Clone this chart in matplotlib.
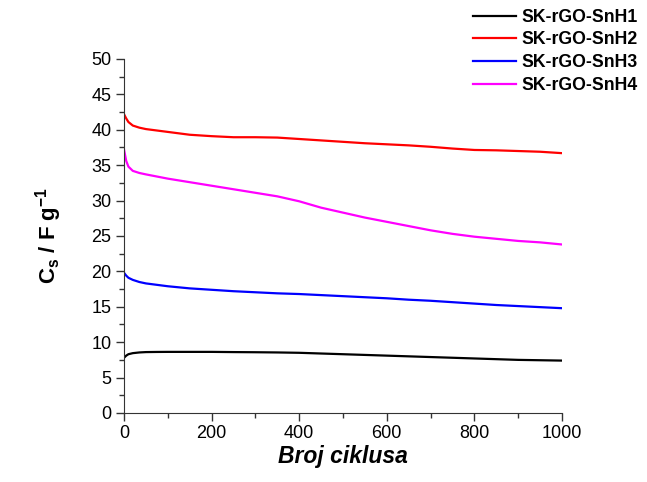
import matplotlib
matplotlib.use('Agg')
import matplotlib.pyplot as plt
import numpy as np

plt.rcParams['font.family'] = ['Liberation Sans', 'DejaVu Sans']
plt.rcParams['mathtext.fontset'] = 'custom'
plt.rcParams['mathtext.rm'] = 'Liberation Sans:bold'
plt.rcParams['mathtext.bf'] = 'Liberation Sans:bold'

# ciklusi
cycles = [0, 5, 10, 20, 35, 50, 75, 100, 150, 200, 250, 300, 350, 400, 450, 500,
          550, 600, 650, 700, 750, 800, 850, 900, 950, 1000]

h1 = [7.8, 8.1, 8.3, 8.45, 8.55, 8.6, 8.62, 8.63, 8.63, 8.63, 8.6, 8.58, 8.55, 8.5, 8.4, 8.3,
      8.2, 8.1, 8.0, 7.9, 7.8, 7.7, 7.6, 7.5, 7.45, 7.4]
h2 = [42.2, 41.6, 41.1, 40.6, 40.3, 40.1, 39.9, 39.7, 39.3, 39.1, 38.95, 38.95, 38.9, 38.7, 38.5, 38.3,
      38.1, 37.95, 37.8, 37.6, 37.35, 37.15, 37.1, 37.0, 36.9, 36.7]
h3 = [19.8, 19.4, 19.1, 18.8, 18.5, 18.3, 18.1, 17.9, 17.6, 17.4, 17.2, 17.05, 16.9, 16.8, 16.65, 16.5,
      16.35, 16.2, 16.0, 15.85, 15.65, 15.45, 15.25, 15.1, 14.95, 14.8]
h4 = [37.2, 35.6, 34.8, 34.2, 33.9, 33.7, 33.4, 33.1, 32.6, 32.1, 31.6, 31.1, 30.6, 29.9, 29.0, 28.3,
      27.6, 27.0, 26.4, 25.8, 25.3, 24.9, 24.6, 24.3, 24.1, 23.8]

labels = ['SK-rGO-SnH1', 'SK-rGO-SnH2', 'SK-rGO-SnH3', 'SK-rGO-SnH4']
colors = ['black', 'red', 'blue', 'magenta']

fig = plt.figure(figsize=(6.47, 4.82), dpi=100)
ax = fig.add_axes([0.1917, 0.1432, 0.6769, 0.7344])

for y, lab, c in zip([h1, h2, h3, h4], labels, colors):
    ax.plot(cycles, y, color=c, lw=1.6, label=lab)

ax.set_xlim(0, 1000)
ax.set_ylim(0, 50)
ax.set_xticks(np.arange(0, 1001, 200))
ax.set_xticks(np.arange(0, 1001, 100), minor=True)
ax.set_yticks(np.arange(0, 51, 5))
ax.set_yticks(np.arange(0, 51, 2.5), minor=True)
ax.spines['top'].set_visible(False)
ax.spines['right'].set_visible(False)
for s in ['left', 'bottom']:
    ax.spines[s].set_color('#333333')
ax.tick_params(which='major', length=6, width=1, labelsize=13, color='#333333', pad=3)
ax.tick_params(which='minor', length=3.5, width=1, color='#333333')

ax.set_xlabel('Broj ciklusa', fontsize=16.5, fontweight='bold', style='italic', labelpad=2)
ax.set_ylabel(r'C$_{\mathrm{s}}$ / F g$^{\mathrm{-1}}$', fontsize=16, fontweight='bold', labelpad=20)

leg = fig.legend(loc='upper right', bbox_to_anchor=(1.0, 1.0), frameon=False,
                 prop={'weight': 'bold', 'size': 12.7}, handlelength=2.4,
                 labelspacing=0.32, handletextpad=0.35, borderaxespad=0.1)

fig.savefig('out.png', dpi=100)
